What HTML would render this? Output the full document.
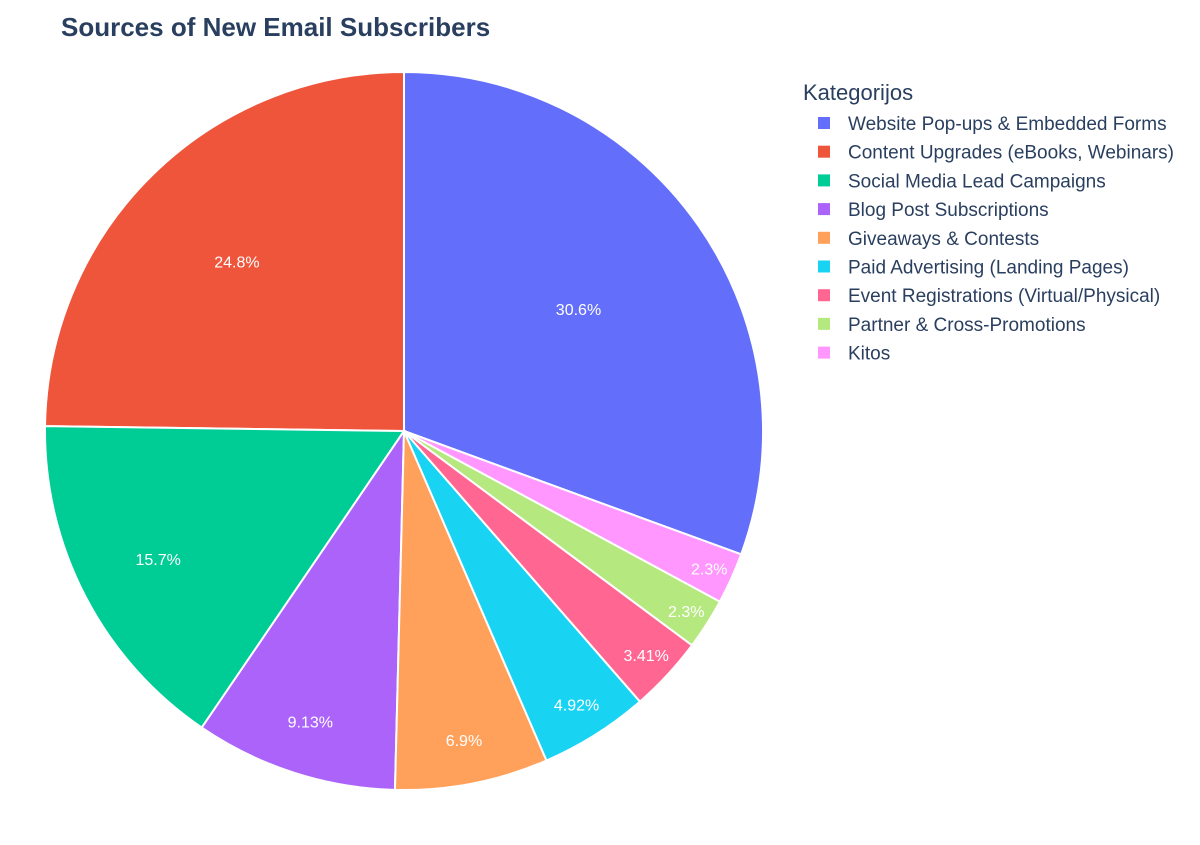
<!DOCTYPE html>
<html><head><meta charset="utf-8"><style>
body{margin:0;background:#fff;font-family:"Liberation Sans",Arial,sans-serif;}
svg text{font-family:"Liberation Sans",Arial,sans-serif;}
</style></head><body>
<svg id="chart" width="1200" height="840">
<text x="61" y="36" font-size="26" font-weight="bold" fill="#2a3f5f">Sources of New Email Subscribers</text>
<g id="pie"></g>
<g id="legend">
<text x="803" y="100" font-size="22" fill="#2a3f5f">Kategorijos</text>
</g>
</svg>
<script>
const categories=["Website Pop-ups & Embedded Forms","Content Upgrades (eBooks, Webinars)","Social Media Lead Campaigns","Blog Post Subscriptions","Giveaways & Contests","Paid Advertising (Landing Pages)","Event Registrations (Virtual/Physical)","Partner & Cross-Promotions","Kitos"];
const values=[30.6,24.8,15.7,9.13,6.9,4.92,3.41,2.3,2.3];
const colors=["#636efa","#EF553B","#00cc96","#ab63fa","#FFA15A","#19d3f3","#FF6692","#B6E880","#FF97FF"];
const NS="http://www.w3.org/2000/svg";
const cx=404,cy=431,R=359;
const pie=document.getElementById('pie'),leg=document.getElementById('legend');
const total=values.reduce((a,b)=>a+b,0);
function pt(a,r){return [cx+r*Math.sin(a),cy-r*Math.cos(a)];}
const start=values[0]/total*2*Math.PI;
let acc=0;
values.forEach((v,i)=>{
  const aHi=start-acc/total*2*Math.PI;acc+=v;const aLo=start-acc/total*2*Math.PI;
  const p0=pt(aLo,R),p1=pt(aHi,R);
  const path=document.createElementNS(NS,'path');
  path.setAttribute('d',`M${cx},${cy}L${p0[0]},${p0[1]}A${R},${R} 0 ${aHi-aLo>Math.PI?1:0} 1 ${p1[0]},${p1[1]}Z`);
  path.setAttribute('fill',colors[i]);path.setAttribute('stroke','#fff');path.setAttribute('stroke-width','2');
  
  
  pie.appendChild(path);
  const pct=v/total*100;
  const frac=Math.min(0.94,0.96-pct*0.012);
  const m=(aLo+aHi)/2;const tp=pt(m,R*frac);
  const t=document.createElementNS(NS,'text');
  t.setAttribute('x',tp[0]);t.setAttribute('y',tp[1]+6);t.setAttribute('text-anchor','middle');
  t.setAttribute('font-size','16');t.setAttribute('fill','#fff');
  t.textContent=String(v)+'%';
  
  
  pie.appendChild(t);
  const y=123+i*28.7;
  const r=document.createElementNS(NS,'rect');
  r.setAttribute('x',818);r.setAttribute('y',y-6);r.setAttribute('width',12);r.setAttribute('height',12);r.setAttribute('fill',colors[i]);
  
  
  leg.appendChild(r);
  const lt=document.createElementNS(NS,'text');
  lt.setAttribute('x',848);lt.setAttribute('y',y+7);lt.setAttribute('font-size','19');lt.setAttribute('fill','#2a3f5f');
  lt.textContent=categories[i];
  
  
  leg.appendChild(lt);
});
</script>
</body></html>
